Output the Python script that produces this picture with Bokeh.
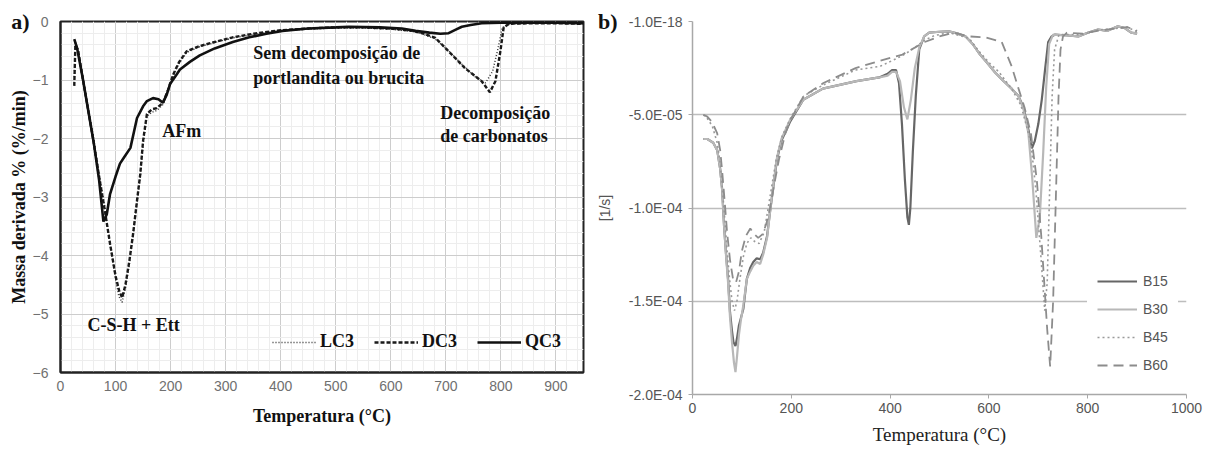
import numpy as np
from bokeh.plotting import figure
from bokeh.layouts import row
from bokeh.models import (Range1d, SingleIntervalTicker, FixedTicker, Label, Legend,
                          LegendItem, CustomJSTickFormatter, LinearAxis)
from bokeh.embed import file_html
from bokeh.resources import INLINE

SERIF = "Liberation Serif"
SANS = "Liberation Sans"

# ---------------- panel a) : DTG of LC3 / DC3 / QC3 (%/min) ----------------
qc3_t = [25, 30, 40, 50, 60, 70, 78, 84, 90, 100, 108, 115, 127, 139, 150, 157, 168, 178, 186,
         193, 199, 210, 217, 235, 253, 280, 313, 343, 374, 403, 450, 500, 524, 580, 620, 645,
         670, 690, 705, 718, 729, 745, 765, 800, 850, 900, 950]
qc3 = [-0.30, -0.45, -0.95, -1.50, -2.05, -2.70, -3.42, -3.30, -2.95, -2.65, -2.43, -2.33,
       -2.16, -1.65, -1.45, -1.36, -1.31, -1.33, -1.39, -1.25, -1.07, -0.92, -0.82, -0.69,
       -0.58, -0.46, -0.35, -0.27, -0.21, -0.16, -0.12, -0.10, -0.09, -0.10, -0.12, -0.16,
       -0.19, -0.21, -0.20, -0.14, -0.09, -0.06, -0.03, -0.02, -0.02, -0.02, -0.03]

dc3_t = [25, 27, 32, 40, 50, 60, 70, 80, 90, 100, 107, 112, 118, 125, 132, 139, 145, 150, 157,
         166, 175, 186, 195, 205, 215, 229, 253, 280, 313, 350, 400, 450, 500, 550, 600, 640,
         657, 681, 705, 735, 765, 780, 790, 799, 805, 815, 850, 900, 950]
dc3 = [-1.10, -0.40, -0.50, -0.95, -1.50, -2.05, -2.65, -3.20, -3.80, -4.35, -4.62, -4.72,
       -4.50, -4.10, -3.62, -3.06, -2.60, -2.04, -1.58, -1.50, -1.48, -1.39, -1.18, -0.90,
       -0.70, -0.51, -0.42, -0.35, -0.27, -0.21, -0.15, -0.12, -0.10, -0.10, -0.12, -0.16,
       -0.20, -0.28, -0.51, -0.80, -1.02, -1.21, -1.02, -0.51, -0.10, -0.04, -0.03, -0.03, -0.04]

lc3_t = [25, 27, 32, 40, 50, 60, 70, 80, 90, 100, 106, 112, 118, 125, 132, 139, 145, 150, 157,
         166, 175, 186, 195, 205, 215, 229, 253, 280, 313, 350, 400, 450, 500, 550, 600, 640,
         657, 681, 705, 730, 755, 772, 785, 795, 802, 812, 850, 900, 950]
lc3 = [-1.00, -0.35, -0.48, -0.92, -1.45, -2.00, -2.60, -3.15, -3.80, -4.40, -4.70, -4.80,
       -4.55, -4.15, -3.65, -3.10, -2.65, -2.10, -1.62, -1.55, -1.52, -1.42, -1.20, -0.93,
       -0.72, -0.53, -0.43, -0.36, -0.28, -0.22, -0.16, -0.13, -0.11, -0.11, -0.13, -0.17,
       -0.21, -0.30, -0.50, -0.74, -0.96, -1.05, -0.85, -0.45, -0.12, -0.05, -0.03, -0.03, -0.04]

# ---------------- panel b) : DTG of B15..B60, values in 1e-5 1/s ----------------
b15_t = [22, 30, 42, 50, 56, 60, 64, 68, 72, 76, 80, 83, 87, 90, 94, 98, 103, 110, 117, 123,
         130, 137, 143, 151, 157, 164, 171, 180, 197, 224, 264, 332, 378, 395, 404, 412, 418,
         424, 430, 435, 438, 441, 446, 452, 459, 469, 479, 500, 519, 537, 553, 567, 580, 596,
         613, 630, 646, 660, 670, 680, 687, 693, 700, 707, 714, 720, 727, 734, 760, 781, 800,
         821, 840, 861, 875, 888, 900]
b15_e5 = [-6.3, -6.3, -6.5, -6.9, -7.9, -9.0, -11.0, -12.5, -13.8, -15.6, -16.6, -17.2, -17.4,
          -17.0, -16.3, -15.9, -15.4, -13.8, -13.2, -12.9, -12.7, -12.75, -12.4, -11.5, -10.2,
          -8.8, -7.4, -6.4, -5.4, -4.2, -3.6, -3.2, -3.0, -2.8, -2.6, -2.6, -3.3, -5.5, -8.5,
          -10.5, -10.9, -10.0, -7.0, -4.0, -1.5, -0.8, -0.6, -0.55, -0.53, -0.65, -0.8, -1.2,
          -1.7, -2.2, -2.75, -3.2, -3.6, -4.0, -4.6, -5.8, -6.8, -6.4, -5.5, -4.2, -2.5, -1.1,
          -0.8, -0.7, -0.75, -0.8, -0.6, -0.43, -0.5, -0.26, -0.35, -0.6, -0.65]

b30_t = [22, 30, 42, 50, 56, 60, 64, 68, 72, 76, 80, 84, 87, 90, 94, 98, 103, 110, 117, 123,
         130, 137, 143, 151, 157, 164, 171, 180, 197, 224, 264, 332, 378, 395, 404, 412, 420,
         428, 435, 442, 450, 459, 469, 479, 500, 519, 537, 553, 567, 580, 596, 613, 630, 646,
         660, 670, 680, 688, 696, 703, 710, 716, 722, 730, 760, 781, 800, 821, 840, 861, 875,
         888, 900]
b30_e5 = [-6.3, -6.3, -6.5, -6.9, -7.9, -9.0, -11.0, -12.6, -14.0, -15.9, -17.2, -18.3, -18.8,
          -18.0, -16.8, -16.0, -15.2, -13.8, -13.4, -13.1, -12.9, -13.0, -12.5, -11.6, -10.2,
          -8.7, -7.3, -6.3, -5.3, -4.2, -3.6, -3.2, -3.0, -2.9, -2.7, -2.7, -3.2, -4.6, -5.25,
          -4.2, -2.5, -1.4, -0.8, -0.6, -0.55, -0.53, -0.65, -0.8, -1.2, -1.7, -2.2, -2.75,
          -3.2, -3.6, -4.0, -4.7, -6.0, -8.5, -11.6, -10.5, -7.0, -3.5, -1.2, -0.7, -0.75,
          -0.8, -0.6, -0.43, -0.5, -0.26, -0.35, -0.6, -0.65]

b45_t = [22, 30, 40, 50, 56, 60, 65, 70, 75, 80, 85, 90, 96, 103, 110, 118, 126, 135, 145, 152,
         160, 170, 182, 200, 225, 265, 330, 380, 412, 430, 450, 470, 490, 520, 560, 580, 600,
         620, 646, 665, 685, 695, 705, 713, 718, 723, 728, 733, 742, 760, 790, 820, 850, 880, 900]
b45_e5 = [-5.0, -5.2, -5.6, -6.5, -7.6, -8.8, -10.5, -12.3, -13.8, -15.0, -15.5, -15.0, -13.8,
          -12.6, -11.9, -11.6, -11.8, -11.9, -11.3, -10.2, -8.9, -7.3, -6.1, -5.1, -4.0, -3.4,
          -2.6, -2.4, -2.0, -1.75, -1.4, -1.0, -0.75, -0.6, -0.9, -1.6, -2.2, -2.7, -3.6, -4.5,
          -6.5, -9.0, -12.5, -15.5, -14.0, -9.0, -4.0, -1.5, -0.7, -0.7, -0.7, -0.45, -0.4,
          -0.3, -0.55]

b60_t = [22, 30, 40, 50, 56, 60, 65, 70, 76, 82, 88, 94, 100, 108, 117, 125, 133, 142, 150, 157,
         165, 175, 188, 200, 225, 265, 330, 380, 425, 450, 470, 500, 530, 560, 593, 626, 646,
         660, 672, 685, 697, 706, 712, 718, 724, 730, 736, 741, 745, 750, 758, 790, 820, 850,
         880, 900]
b60_e5 = [-5.0, -5.1, -5.4, -6.0, -6.9, -8.0, -9.6, -11.3, -12.8, -13.8, -14.0, -13.4, -12.3,
          -11.5, -11.1, -11.4, -11.6, -11.4, -10.8, -10.0, -8.8, -7.4, -6.0, -5.2, -4.0, -3.3,
          -2.5, -2.1, -1.77, -1.4, -1.1, -0.8, -0.6, -0.8, -0.85, -1.1, -2.4, -3.6, -4.6, -6.0,
          -8.5, -11.5, -14.0, -16.5, -18.5, -15.0, -9.0, -4.0, -1.5, -0.8, -0.6, -0.65, -0.5,
          -0.4, -0.3, -0.5]

b_ticks = [-2.0e-4, -1.5e-4, -1.0e-4, -5.0e-5, 0.0]


def panel_tag(tag, title, font, size, color, label_standoff, tag_standoff):
    """Outer left axis carrying the panel letter (at the top tick) and the axis title."""
    ax = LinearAxis(ticker=FixedTicker(ticks=[0]),
                    formatter=CustomJSTickFormatter(code='return "%s";' % tag))
    ax.axis_line_color = None
    ax.major_tick_out = 0
    ax.major_tick_in = 0
    ax.minor_tick_out = 0
    ax.minor_tick_in = 0
    ax.major_label_text_font = SERIF
    ax.major_label_text_font_style = "bold"
    ax.major_label_text_font_size = "22px"
    ax.major_label_text_color = "#111111"
    ax.major_label_standoff = tag_standoff
    ax.axis_label = title
    ax.axis_label_text_font = font
    ax.axis_label_text_font_size = size
    ax.axis_label_text_color = color
    ax.axis_label_standoff = label_standoff
    return ax


# ======================= panel a) =======================
pa = figure(width=590, height=428, output_backend="svg", toolbar_location=None,
            x_range=Range1d(0, 950), y_range=Range1d(-6, 0),
            min_border_left=60, min_border_right=7, min_border_top=21, min_border_bottom=55)
pa.background_fill_color = "white"
pa.outline_line_color = "#222222"
pa.outline_line_width = 2

xt = SingleIntervalTicker(interval=100, num_minor_ticks=5)
yt = SingleIntervalTicker(interval=1, num_minor_ticks=5)
xa = pa.xaxis[0]
ya = pa.yaxis[0]
xa.ticker = xt
ya.ticker = yt
pa.xgrid.ticker = xt
pa.ygrid.ticker = yt
for g in (pa.xgrid, pa.ygrid):
    g.grid_line_color = "#cdcdcd"
    g.grid_line_width = 1
    g.minor_grid_line_color = "#ededed"
    g.minor_grid_line_width = 1

for ax in (xa, ya):
    ax.axis_line_color = "#222222"
    ax.axis_line_width = 2
    ax.major_tick_out = 0
    ax.major_tick_in = 0
    ax.minor_tick_out = 0
    ax.minor_tick_in = 0
    ax.major_label_text_font = SANS
    ax.major_label_text_font_size = "14px"
    ax.major_label_text_color = "#707070"

xa.axis_label = "Temperatura (°C)"
xa.axis_label_text_font = SERIF
xa.axis_label_text_font_style = "bold"
xa.axis_label_text_font_size = "18px"
xa.axis_label_text_color = "#111111"
xa.major_label_standoff = 8
xa.axis_label_standoff = 12
ya.major_label_standoff = 12

tag_a = panel_tag("a)", "Massa derivada % (%/min)", SERIF, "18px", "#111111", -21, 0)
tag_a.axis_label_text_font_style = "bold"
pa.add_layout(tag_a, "left")

r_lc3 = pa.line(lc3_t, lc3, line_color="#333333", line_width=1.5, line_dash="1 2")
r_dc3 = pa.line(dc3_t, dc3, line_color="#1a1a1a", line_width=2.4, line_dash="4 2")
r_qc3 = pa.line(qc3_t, qc3, line_color="#111111", line_width=2.6)

leg_a = Legend(items=[LegendItem(label="LC3", renderers=[r_lc3]),
                      LegendItem(label="DC3", renderers=[r_dc3]),
                      LegendItem(label="QC3", renderers=[r_qc3])],
               orientation="horizontal", location=(212, 20),
               label_text_font=SERIF, label_text_font_style="bold",
               label_text_font_size="18px", label_text_color="#111111",
               glyph_width=44, glyph_height=20, label_standoff=4, spacing=20,
               padding=0, margin=0, background_fill_alpha=0, border_line_alpha=0)
pa.add_layout(leg_a)

notes_a = [
    ("Sem decomposição de", 350, -0.54),
    ("portlandita ou brucita", 350, -0.97),
    ("Decomposição", 690, -1.56),
    ("de carbonatos", 690, -1.96),
    ("AFm", 185, -1.87),
    ("C-S-H + Ett", 49, -5.19),
]
for txt, tx, ty in notes_a:
    pa.add_layout(Label(x=tx, y=ty, text=txt, text_font=SERIF, text_font_style="bold",
                        text_font_size="18px", text_color="#111111",
                        text_align="left", text_baseline="middle"))

# ======================= panel b) =======================
pb = figure(width=623, height=450, output_backend="svg", toolbar_location=None,
            x_range=Range1d(0, 1000), y_range=Range1d(-2.0e-4, 0),
            min_border_left=102, min_border_right=27, min_border_top=21, min_border_bottom=55)
pb.outline_line_color = None
pb.xgrid.grid_line_color = None
pb.ygrid.grid_line_color = "#bdbdbd"
pb.ygrid.grid_line_width = 1.5

xb = pb.xaxis[0]
yb = pb.yaxis[0]
xb.ticker = SingleIntervalTicker(interval=200, num_minor_ticks=0)
ybt = FixedTicker(ticks=b_ticks)
yb.ticker = ybt
pb.ygrid.ticker = ybt
yb.formatter = CustomJSTickFormatter(code="""
    if (Math.abs(tick) < 1e-12) { return "-1.0E-18"; }
    const parts = tick.toExponential(1).split("e");
    const n = parseInt(parts[1]);
    const a = Math.abs(n);
    return parts[0] + "E" + (n < 0 ? "-" : "+") + (a < 10 ? "0" + a : "" + a);
""")

for ax in (xb, yb):
    ax.axis_line_color = "#a8a8a8"
    ax.axis_line_width = 1.5
    ax.major_tick_out = 4
    ax.major_tick_in = 0
    ax.major_tick_line_color = "#a8a8a8"
    ax.minor_tick_out = 0
    ax.minor_tick_in = 0
    ax.major_label_text_font = SANS
    ax.major_label_text_font_size = "14px"
    ax.major_label_text_color = "#555555"

xb.axis_label = "Temperatura (°C)"
xb.axis_label_text_font = SERIF
xb.axis_label_text_font_style = "normal"
xb.axis_label_text_font_size = "19px"
xb.axis_label_text_color = "#222222"
xb.major_label_standoff = 4
xb.axis_label_standoff = 8
yb.major_label_standoff = 6

tag_b = panel_tag("b)", "[1/s]", SANS, "14px", "#555555", -18, 8)
tag_b.axis_label_text_font_style = "normal"
pb.add_layout(tag_b, "left")

r_b15 = pb.line(b15_t, np.array(b15_e5) * 1e-5, line_color="#666666", line_width=2.2)
r_b30 = pb.line(b30_t, np.array(b30_e5) * 1e-5, line_color="#b8b8b8", line_width=2.2)
r_b45 = pb.line(b45_t, np.array(b45_e5) * 1e-5, line_color="#9a9a9a", line_width=1.6,
                line_dash="2 3")
r_b60 = pb.line(b60_t, np.array(b60_e5) * 1e-5, line_color="#8c8c8c", line_width=1.8,
                line_dash="10 6")

leg_b = Legend(items=[LegendItem(label="B15", renderers=[r_b15]),
                      LegendItem(label="B30", renderers=[r_b30]),
                      LegendItem(label="B45", renderers=[r_b45]),
                      LegendItem(label="B60", renderers=[r_b60])],
               location=(395, 9), label_text_font=SANS, label_text_font_size="14px",
               label_text_color="#555555", glyph_width=40, glyph_height=20,
               label_height=20, label_standoff=6, spacing=8, padding=10, margin=0,
               background_fill_color="white", background_fill_alpha=1.0,
               border_line_alpha=0)
pb.add_layout(leg_b)

layout = row(pa, pb)
open("out.html", "w").write(file_html(layout, INLINE))
